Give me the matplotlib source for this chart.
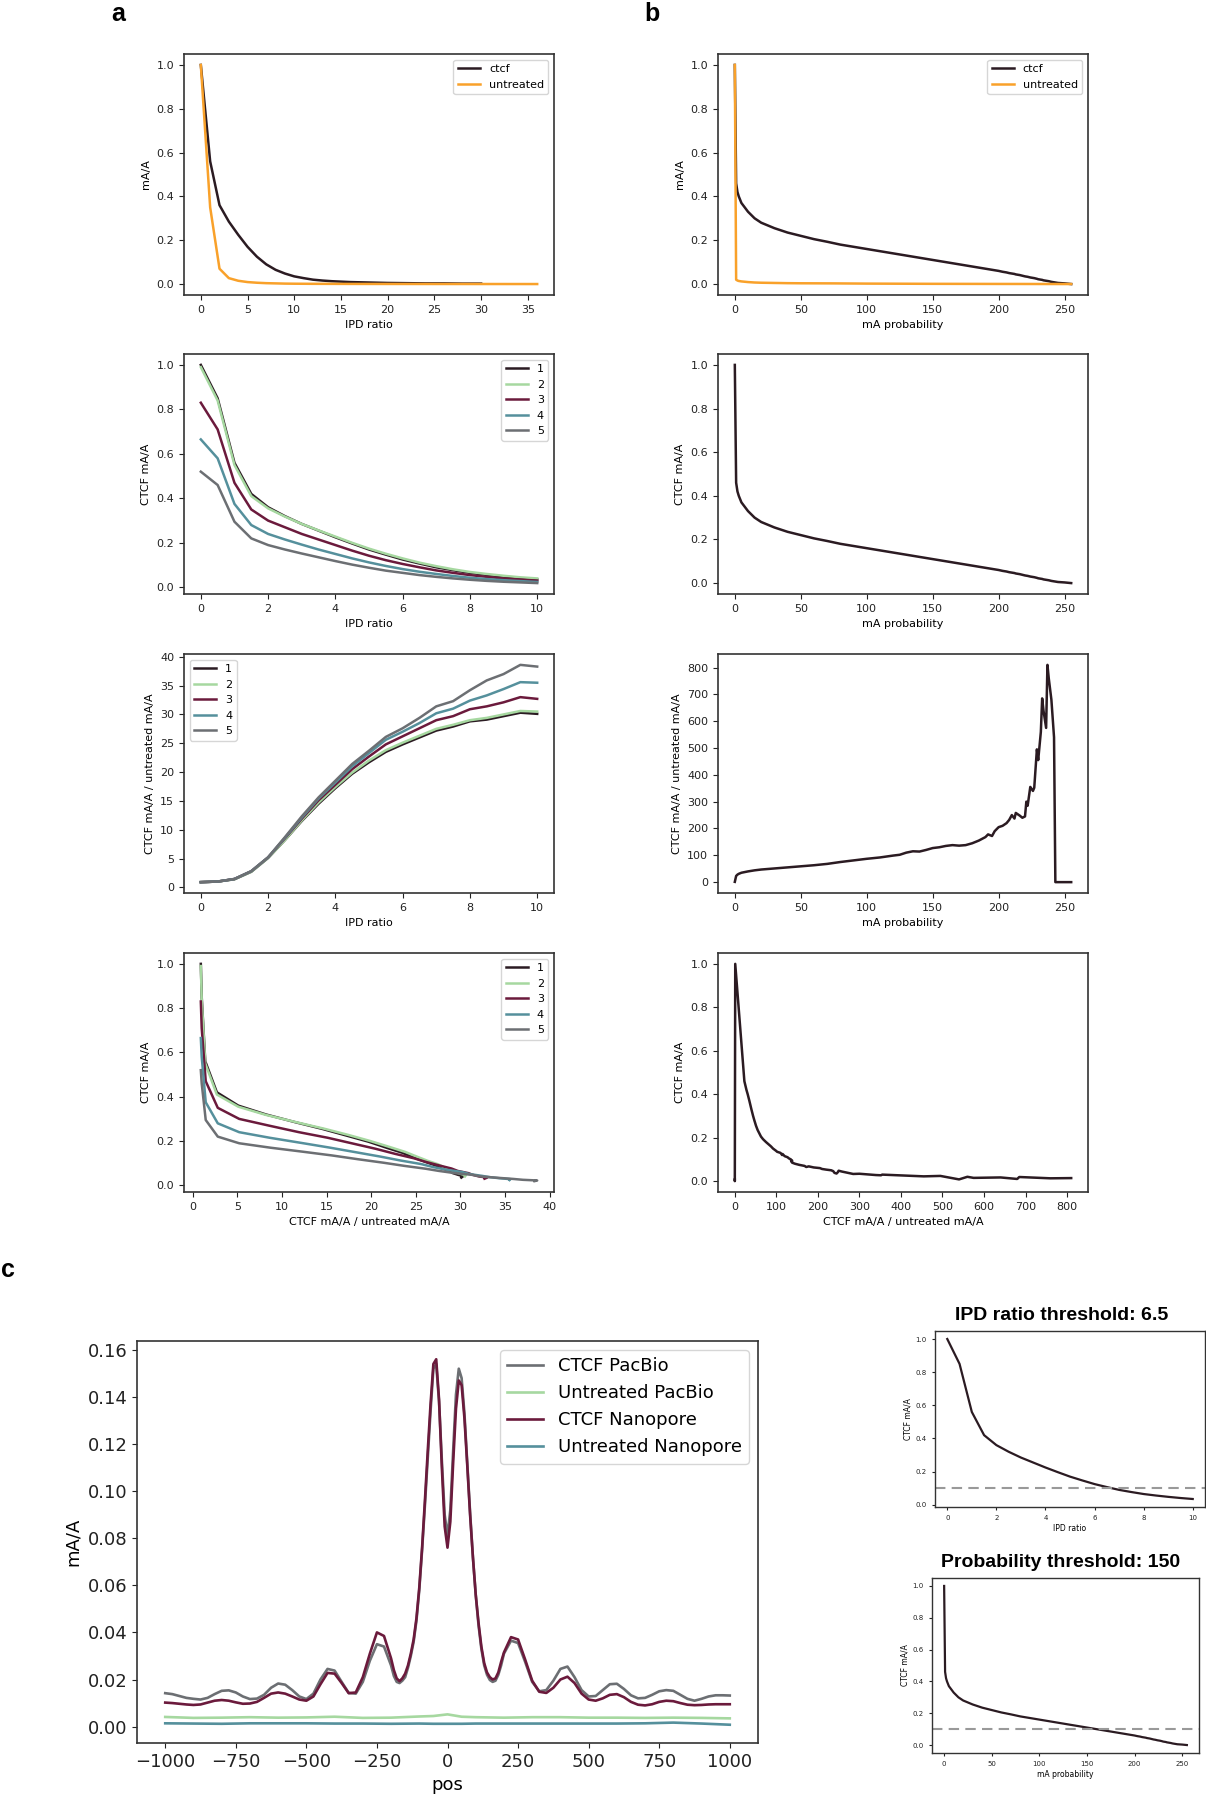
import numpy as np
import matplotlib
matplotlib.use("Agg")
import matplotlib.pyplot as plt

# ---------------- data ----------------
# panel a, row 1
ctcf_ipd_x = [0, 1, 2, 3, 4, 5, 6, 7, 8, 9, 10, 11, 12, 13, 14, 15, 16, 17, 18, 19, 20, 22, 24, 26, 28, 30]
ctcf_ipd_y = [1.0, 0.56, 0.36, 0.285, 0.225, 0.17, 0.125, 0.09, 0.065, 0.048, 0.035, 0.027, 0.02,
              0.016, 0.013, 0.011, 0.009, 0.008, 0.007, 0.006, 0.005, 0.004, 0.003, 0.003, 0.002, 0.002]
untr_ipd_x = [0, 1, 2, 3, 4, 5, 6, 7, 8, 9, 10, 12, 14, 16, 18, 20, 24, 28, 32, 36]
untr_ipd_y = [1.0, 0.35, 0.07, 0.027, 0.015, 0.009, 0.006, 0.004, 0.003, 0.002, 0.0015, 0.001,
              0.0008, 0.0006, 0.0005, 0.0004, 0.0003, 0.0002, 0.0001, 0.0]

# panel a, rows 2-4 (IPD ratio 0..10 step 0.5)
ipd = [0, 0.5, 1, 1.5, 2, 2.5, 3, 3.5, 4, 4.5, 5, 5.5, 6, 6.5, 7, 7.5, 8, 8.5, 9, 9.5, 10]
series_labels = ["1", "2", "3", "4", "5"]
ctcf_s1 = [1.0, 0.85, 0.56, 0.42, 0.36, 0.32, 0.285, 0.255, 0.225, 0.197, 0.17, 0.147, 0.125, 0.107,
           0.09, 0.077, 0.065, 0.056, 0.048, 0.041, 0.035]
ctcf_s2 = [0.99, 0.84, 0.55, 0.41, 0.355, 0.318, 0.285, 0.256, 0.228, 0.2, 0.174, 0.151, 0.13, 0.111,
           0.095, 0.081, 0.069, 0.06, 0.052, 0.045, 0.04]
ctcf_s3 = [0.83, 0.71, 0.47, 0.35, 0.30, 0.27, 0.24, 0.215, 0.19, 0.165, 0.142, 0.122, 0.105, 0.09,
           0.076, 0.065, 0.055, 0.047, 0.04, 0.035, 0.03]
ctcf_s4 = [0.665, 0.58, 0.375, 0.28, 0.24, 0.215, 0.192, 0.17, 0.15, 0.13, 0.112, 0.096, 0.082, 0.07,
           0.06, 0.051, 0.043, 0.037, 0.032, 0.028, 0.024]
ctcf_s5 = [0.52, 0.46, 0.295, 0.22, 0.19, 0.17, 0.152, 0.135, 0.118, 0.102, 0.088, 0.075, 0.065, 0.055,
           0.047, 0.04, 0.034, 0.029, 0.025, 0.022, 0.019]
ratio_s1 = [0.9, 1.0, 1.4, 2.7, 5.1, 8.2, 11.5, 14.5, 17.2, 19.7, 21.7, 23.5, 24.8, 26.0, 27.2, 27.9,
            28.8, 29.1, 29.7, 30.3, 30.1]
ratio_s2 = [0.9, 1.0, 1.4, 2.7, 5.1, 8.2, 11.6, 14.7, 17.4, 19.9, 22.0, 23.8, 25.1, 26.3, 27.5, 28.2,
            29.0, 29.4, 30.0, 30.6, 30.5]
ratio_s3 = [0.9, 1.0, 1.45, 2.8, 5.2, 8.5, 11.9, 15.1, 17.8, 20.5, 22.7, 24.8, 26.2, 27.6, 29.0, 29.7,
            30.9, 31.4, 32.1, 33.0, 32.7]
ratio_s4 = [0.9, 1.0, 1.45, 2.8, 5.2, 8.6, 12.1, 15.4, 18.2, 21.0, 23.3, 25.6, 27.0, 28.5, 30.2, 31.0,
            32.4, 33.3, 34.4, 35.6, 35.5]
ratio_s5 = [0.9, 1.0, 1.45, 2.8, 5.2, 8.7, 12.3, 15.6, 18.5, 21.4, 23.7, 26.1, 27.6, 29.4, 31.4, 32.3,
            34.2, 35.9, 37.0, 38.6, 38.3]

# panel b (mA probability 0..255)
prob = [0, 1, 2, 3, 5, 10, 15, 20, 30, 40, 50, 60, 70, 80, 90, 100, 110, 120, 125, 130, 135, 140, 145,
        150, 155, 160, 165, 170, 175, 180, 185, 190, 192, 195, 197, 200, 203, 206, 208, 210, 212, 213,
        216, 218, 220, 221, 222, 224, 226, 227, 229, 230, 232, 233, 234, 236, 237, 238, 240, 242, 243,
        245, 250, 255]
ctcf_prob = [1.0, 0.46, 0.42, 0.40, 0.37, 0.33, 0.30, 0.28, 0.255, 0.235, 0.22, 0.205, 0.193, 0.18,
             0.17, 0.16, 0.15, 0.14, 0.135, 0.13, 0.125, 0.12, 0.115, 0.11, 0.105, 0.10, 0.095, 0.09,
             0.085, 0.08, 0.075, 0.07, 0.068, 0.065, 0.063, 0.06, 0.056, 0.053, 0.05, 0.048, 0.046,
             0.044, 0.041, 0.038, 0.035, 0.034, 0.033, 0.030, 0.028, 0.027, 0.024, 0.022, 0.020, 0.019,
             0.017, 0.015, 0.014, 0.013, 0.010, 0.008, 0.007, 0.005, 0.003, 0.0]
ratio_prob = [1, 23, 28, 31, 35, 40, 44, 47, 51, 55, 59, 63, 68, 75, 81, 87, 92, 99, 102, 110, 115, 114,
              120, 127, 130, 135, 138, 136, 138, 145, 155, 168, 178, 172, 190, 205, 210, 220, 232, 250,
              237, 258, 248, 240, 245, 300, 285, 355, 340, 352, 495, 455, 560, 685, 640, 575, 810, 760,
              680, 540, 0, 0, 0, 0]
untr_prob_x = [0, 1, 2, 3, 5, 10, 15, 20, 30, 40, 50, 75, 100, 150, 200, 255]
untr_prob_y = [1.0, 0.02, 0.016, 0.014, 0.012, 0.009, 0.007, 0.006, 0.005, 0.004, 0.0035, 0.003,
               0.002, 0.001, 0.0005, 0.0]

# panel c
pos = np.r_[np.arange(-1000, -200, 25), np.arange(-200, 200, 10), np.arange(200, 1001, 25)]
ctcf_pacbio = [0.0142, 0.0138, 0.0130, 0.0122, 0.0118, 0.0115, 0.0122, 0.0138, 0.0152, 0.0154, 0.0145,
               0.0128, 0.0117, 0.0119, 0.0135, 0.0165, 0.0183, 0.0178, 0.0155, 0.0128, 0.0117, 0.0140,
               0.0200, 0.0245, 0.0238, 0.0190, 0.0143, 0.0140, 0.0190, 0.0280, 0.0350, 0.0340,
               0.0260, 0.0215, 0.0190, 0.0185, 0.0195, 0.0210, 0.0250, 0.0300, 0.0360, 0.0450,
               0.0580, 0.0750, 0.0940, 0.1140, 0.1340, 0.1520, 0.1540, 0.1380, 0.1130, 0.0900,
               0.0810, 0.0920, 0.1170, 0.1410, 0.1520, 0.1480, 0.1330, 0.1120, 0.0910, 0.0720,
               0.0560, 0.0430, 0.0330, 0.0260, 0.0220, 0.0198, 0.0190, 0.0195, 0.0220, 0.0260,
               0.0310, 0.0365, 0.0355, 0.0275, 0.0190, 0.0150, 0.0155, 0.0195, 0.0245, 0.0255, 0.0210,
               0.0155, 0.0128, 0.0130, 0.0155, 0.0180, 0.0182, 0.0160, 0.0133, 0.0120, 0.0122, 0.0135,
               0.0150, 0.0155, 0.0152, 0.0135, 0.0118, 0.0110, 0.0118, 0.0128, 0.0133, 0.0133, 0.0132]
ctcf_nanopore = [0.0102, 0.0100, 0.0097, 0.0094, 0.0092, 0.0094, 0.0102, 0.0110, 0.0113, 0.0110, 0.0103,
                 0.0097, 0.0098, 0.0105, 0.0122, 0.0140, 0.0145, 0.0140, 0.0128, 0.0115, 0.0110, 0.0128,
                 0.0180, 0.0228, 0.0225, 0.0185, 0.0142, 0.0145, 0.0210, 0.0310, 0.0400, 0.0385,
                 0.0290, 0.0240, 0.0205, 0.0193, 0.0205, 0.0225, 0.0260, 0.0310, 0.0370, 0.0460,
                 0.0590, 0.0760, 0.0960, 0.1170, 0.1370, 0.1540, 0.1560, 0.1390, 0.1100, 0.0850,
                 0.0760, 0.0870, 0.1120, 0.1350, 0.1470, 0.1450, 0.1310, 0.1110, 0.0900, 0.0720,
                 0.0560, 0.0440, 0.0340, 0.0270, 0.0230, 0.0210, 0.0200, 0.0205, 0.0230, 0.0275,
                 0.0315, 0.0380, 0.0370, 0.0285, 0.0195, 0.0148, 0.0143, 0.0165, 0.0200, 0.0212, 0.0185,
                 0.0140, 0.0115, 0.0110, 0.0120, 0.0135, 0.0138, 0.0125, 0.0105, 0.0093, 0.0090, 0.0095,
                 0.0105, 0.0110, 0.0108, 0.0100, 0.0093, 0.0091, 0.0092, 0.0094, 0.0095, 0.0095, 0.0095]
untr_pos = [-1000, -900, -800, -700, -600, -500, -400, -300, -200, -100, -50, 0, 50, 100, 200, 300,
            400, 500, 600, 700, 800, 900, 1000]
untr_pacbio = [0.0041, 0.0037, 0.0038, 0.0040, 0.0038, 0.0039, 0.0042, 0.0037, 0.0038, 0.0043, 0.0045,
               0.0052, 0.0042, 0.0040, 0.0038, 0.0040, 0.0040, 0.0038, 0.0038, 0.0037, 0.0038, 0.0037,
               0.0035]
untr_nanopore = [0.0014, 0.0013, 0.0012, 0.0014, 0.0014, 0.0014, 0.0013, 0.0013, 0.0012, 0.0013, 0.0012,
                 0.0012, 0.0012, 0.0013, 0.0013, 0.0013, 0.0013, 0.0013, 0.0013, 0.0014, 0.0017, 0.0013,
                 0.0008]
c_labels = ["CTCF PacBio", "Untreated PacBio", "CTCF Nanopore", "Untreated Nanopore"]
ipd_threshold = 6.5
prob_threshold = 150
frac_line = 0.1

# ---------------- style ----------------
C1, C2, C3, C4, C5 = "#2b1b22", "#a6d8a0", "#6b1a3c", "#55909c", "#6c6f73"
ORANGE = "#f9a12a"
series_colors = [C1, C2, C3, C4, C5]

plt.rcParams.update({
    "font.family": ["DejaVu Sans"],
    "axes.edgecolor": "#333333",
    "axes.linewidth": 1.2,
    "xtick.labelsize": 8,
    "ytick.labelsize": 8,
    "axes.labelsize": 8,
    "legend.fontsize": 8,
    "xtick.color": "#222222",
    "ytick.color": "#222222",
})

W, H = 1206, 1800
fig = plt.figure(figsize=(W / 100, H / 100), dpi=100)


def ax_at(x0, y0, x1, y1):
    return fig.add_axes([x0 / W, 1 - y1 / H, (x1 - x0) / W, (y1 - y0) / H])


LW = 1.8
LX = (184, 554)
RX = (718, 1088)
rows = [(54, 295), (354, 594), (654, 893), (953, 1192)]

# ---- column a ----
ax = ax_at(LX[0], rows[0][0], LX[1], rows[0][1])
ax.plot(ctcf_ipd_x, ctcf_ipd_y, color=C1, lw=LW, label="ctcf")
ax.plot(untr_ipd_x, untr_ipd_y, color=ORANGE, lw=LW, label="untreated")
ax.set_xlabel("IPD ratio")
ax.set_ylabel("mA/A")
ax.set_xticks([0, 5, 10, 15, 20, 25, 30, 35])
ax.legend(loc="upper right")

ctcf_all = [ctcf_s1, ctcf_s2, ctcf_s3, ctcf_s4, ctcf_s5]
ratio_all = [ratio_s1, ratio_s2, ratio_s3, ratio_s4, ratio_s5]

ax = ax_at(LX[0], rows[1][0], LX[1], rows[1][1])
for ys, c, lab in zip(ctcf_all, series_colors, series_labels):
    ax.plot(ipd, ys, color=c, lw=LW, label=lab)
ax.set_xlabel("IPD ratio")
ax.set_ylabel("CTCF mA/A")
ax.legend(loc="upper right")

ax = ax_at(LX[0], rows[2][0], LX[1], rows[2][1])
for ys, c, lab in zip(ratio_all, series_colors, series_labels):
    ax.plot(ipd, ys, color=c, lw=LW, label=lab)
ax.set_xlabel("IPD ratio")
ax.set_ylabel("CTCF mA/A / untreated mA/A")
ax.legend(loc="upper left")

ax = ax_at(LX[0], rows[3][0], LX[1], rows[3][1])
for xs, ys, c, lab in zip(ratio_all, ctcf_all, series_colors, series_labels):
    ax.plot(xs, ys, color=c, lw=LW, label=lab)
ax.set_xlabel("CTCF mA/A / untreated mA/A")
ax.set_ylabel("CTCF mA/A")
ax.set_xticks([0, 5, 10, 15, 20, 25, 30, 35, 40])
ax.legend(loc="upper right")

# ---- column b ----
ax = ax_at(RX[0], rows[0][0], RX[1], rows[0][1])
ax.plot(prob, ctcf_prob, color=C1, lw=LW, label="ctcf")
ax.plot(untr_prob_x, untr_prob_y, color=ORANGE, lw=LW, label="untreated")
ax.set_xlabel("mA probability")
ax.set_ylabel("mA/A")
ax.legend(loc="upper right")

ax = ax_at(RX[0], rows[1][0], RX[1], rows[1][1])
ax.plot(prob, ctcf_prob, color=C1, lw=LW)
ax.set_xlabel("mA probability")
ax.set_ylabel("CTCF mA/A")

ax = ax_at(RX[0], rows[2][0], RX[1], rows[2][1])
ax.plot(prob, ratio_prob, color=C1, lw=LW)
ax.set_xlabel("mA probability")
ax.set_ylabel("CTCF mA/A / untreated mA/A")

ax = ax_at(RX[0], rows[3][0], RX[1], rows[3][1])
rp = np.asarray(ratio_prob, dtype=float)
cp = np.asarray(ctcf_prob, dtype=float)
order = np.argsort(rp, kind="stable")
ax.plot(rp[order], cp[order], color=C1, lw=LW)
ax.set_xlabel("CTCF mA/A / untreated mA/A")
ax.set_ylabel("CTCF mA/A")
ax.set_xticks([0, 100, 200, 300, 400, 500, 600, 700, 800])

# ---- panel c main ----
ax = ax_at(137, 1341, 758, 1743)
ax.plot(pos, ctcf_pacbio, color=C5, lw=1.9, label=c_labels[0])
ax.plot(untr_pos, untr_pacbio, color=C2, lw=1.9, label=c_labels[1])
ax.plot(pos, ctcf_nanopore, color=C3, lw=1.9, label=c_labels[2])
ax.plot(untr_pos, untr_nanopore, color=C4, lw=1.9, label=c_labels[3])
ax.set_xticks([-1000, -750, -500, -250, 0, 250, 500, 750, 1000])
ax.set_yticks([0.0, 0.02, 0.04, 0.06, 0.08, 0.10, 0.12, 0.14, 0.16])
ax.tick_params(labelsize=13)
ax.set_xlabel("pos", fontsize=13)
ax.set_ylabel("mA/A", fontsize=13)
ax.legend(loc="upper right", fontsize=13)

# ---- panel c small plots ----
ax = ax_at(935, 1331, 1205, 1507)
ax.plot(ipd, ctcf_s1, color=C1, lw=1.6)
ax.axhline(frac_line, color="#999999", lw=1.5, ls=(0, (5, 3)))
ax.set_xticks([0, 2, 4, 6, 8, 10])
ax.tick_params(labelsize=5, length=2.5, width=0.8)
ax.set_xlabel("IPD ratio", fontsize=5.5, labelpad=2)
ax.set_ylabel("CTCF mA/A", fontsize=5.5, labelpad=2)
for s in ax.spines.values():
    s.set_linewidth(1.0)
ax.set_title(f"IPD ratio threshold: {ipd_threshold}", fontsize=14, fontweight="bold",
             family=["Liberation Sans", "DejaVu Sans"], pad=8, x=0.47)

ax = ax_at(932, 1578, 1199, 1753)
ax.plot(prob, ctcf_prob, color=C1, lw=1.6)
ax.axhline(frac_line, color="#999999", lw=1.5, ls=(0, (5, 3)))
ax.set_xticks([0, 50, 100, 150, 200, 250])
ax.tick_params(labelsize=5, length=2.5, width=0.8)
ax.set_xlabel("mA probability", fontsize=5.5, labelpad=2)
ax.set_ylabel("CTCF mA/A", fontsize=5.5, labelpad=2)
for s in ax.spines.values():
    s.set_linewidth(1.0)
ax.set_title(f"Probability threshold: {prob_threshold}", fontsize=14, fontweight="bold",
             family=["Liberation Sans", "DejaVu Sans"], pad=8, x=0.48)

# ---- panel letters ----
for txt, x, y in [("a", 118, 14), ("b", 652, 14), ("c", 8, 1270)]:
    fig.text(x / W, 1 - y / H, txt, fontsize=18, fontweight="bold",
             family=["Liberation Sans", "DejaVu Sans"], ha="center", va="center")

fig.savefig("out.png", dpi=100, facecolor="white")
